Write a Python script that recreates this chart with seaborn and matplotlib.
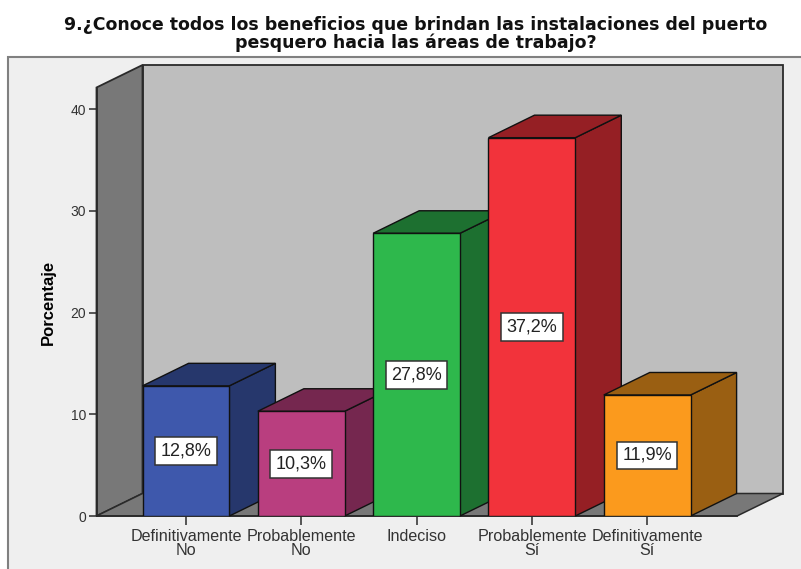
import matplotlib
matplotlib.use("Agg")
import matplotlib.pyplot as plt
from matplotlib.patches import Polygon, Rectangle
import pandas as pd
import seaborn as sns

categories = ["Definitivamente\nNo", "Probablemente\nNo", "Indeciso",
              "Probablemente\nSí", "Definitivamente\nSí"]
values = [12.8, 10.3, 27.8, 37.2, 11.9]
labels = ["12,8%", "10,3%", "27,8%", "37,2%", "11,9%"]
front_colors = ["#3E58AC", "#B93E7F", "#2EB84C", "#F2333B", "#FB9A1D"]
dark_colors = ["#26376C", "#75274F", "#1D7030", "#951F24", "#9A5F12"]
yticks = [0, 10, 20, 30, 40]
title = ("9.¿Conoce todos los beneficios que brindan las instalaciones del puerto\n"
         "pesquero hacia las áreas de trabajo?")

W, H = 801, 569

sns.set_theme(style="white")
plt.rcParams["font.family"] = ["Liberation Sans", "DejaVu Sans"]

fig = plt.figure(figsize=(W / 100, H / 100), dpi=100, facecolor="white")

# grey chart panel behind everything
fig.add_artist(Rectangle((8 / W, -0.01), 1, (H - 57) / H + 0.01, transform=fig.transFigure,
                         fc="#EFEFEF", ec="#808080", lw=1.5, zorder=-1))

# axes covers the front plane of the 3d box
ax = fig.add_axes([96.5 / W, (H - 516) / H, (737 - 96.5) / W, (516 - 87.5) / H])
ax.set_facecolor("none")

df = pd.DataFrame({"cat": categories, "pct": values})
sns.barplot(data=df, x="cat", y="pct", hue="cat", order=categories, hue_order=categories,
            palette=front_colors, width=0.753, saturation=1, edgecolor="#111111",
            linewidth=1.0, legend=False, ax=ax)

xmin, xmax = -0.776, 4.779
ymax = 428.5 / 10.17
ax.set_xlim(xmin, xmax)
ax.set_ylim(0, ymax)

# depth of the box in data units
dx = 46 / 115.3
dy = 22.5 / 10.17

edge = "#2A2A2A"
ax.add_patch(Polygon([(xmin + dx, dy), (xmin + dx, ymax + dy), (xmax + dx, ymax + dy), (xmax + dx, dy)],
                     fc="#BEBEBE", ec=edge, lw=1.3, zorder=1, clip_on=False))
ax.add_patch(Polygon([(xmin, 0), (xmin + dx, dy), (xmin + dx, ymax + dy), (xmin, ymax)],
                     fc="#787878", ec=edge, lw=1.3, zorder=1.1, clip_on=False))
ax.add_patch(Polygon([(xmin, 0), (xmin + dx, dy), (xmax + dx, dy), (xmax, 0)],
                     fc="#787878", ec=edge, lw=1.1, zorder=1.1, clip_on=False))

# sides and tops of the bars, later bars sit over earlier ones
for i, (cont, dark, lab) in enumerate(zip(ax.containers, dark_colors, labels)):
    bar = cont[0]
    x0, x1 = bar.get_x(), bar.get_x() + bar.get_width()
    h = bar.get_height()
    z = 3 + i
    bar.set_zorder(z + 0.5)
    ax.add_patch(Polygon([(x1, 0), (x1 + dx, dy), (x1 + dx, h + dy), (x1, h)],
                         fc=dark, ec="#111111", lw=1.0, zorder=z, clip_on=False))
    ax.add_patch(Polygon([(x0, h), (x0 + dx, h + dy), (x1 + dx, h + dy), (x1, h)],
                         fc=dark, ec="#111111", lw=1.0, zorder=z, clip_on=False))
    for t in ax.bar_label(cont, labels=[lab], label_type="center", fontsize=13, color="#222222",
                          bbox=dict(boxstyle="square,pad=0.3", fc="white", ec="#333333", lw=1.1)):
        t.set_zorder(20)

for s in ["top", "right"]:
    ax.spines[s].set_visible(False)
for s in ["left", "bottom"]:
    ax.spines[s].set_color(edge)
    ax.spines[s].set_linewidth(1.3)
    ax.spines[s].set_zorder(2)

ax.set_yticks(yticks)
ax.tick_params(axis="y", left=True, length=6, width=1.1, color=edge, labelsize=10, labelcolor="#333333", pad=1.5)
ax.tick_params(axis="x", bottom=True, length=6.5, width=1.1, color=edge, labelsize=11.6, labelcolor="#333333", pad=3)
for t in ax.get_xticklabels():
    t.set_linespacing(0.88)

ax.set_xlabel("")
ax.set_ylabel("")
fig.text(48 / W, 1 - 302 / H, "Porcentaje", rotation=90, ha="center", va="center",
         fontsize=12, fontweight="bold", color="black")
fig.text(416 / W, 1 - 34 / H, title, ha="center", va="center", fontsize=12.55,
         fontfamily="DejaVu Sans", fontweight="bold", color="#111111", linespacing=1.0)

fig.savefig("out.png", dpi=100)
